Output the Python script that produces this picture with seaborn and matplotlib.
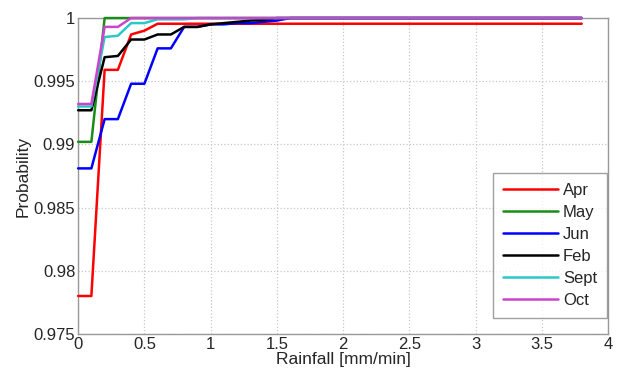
import matplotlib
matplotlib.use("Agg")
import matplotlib.pyplot as plt
import seaborn as sns
import pandas as pd
import numpy as np

# rainfall grid [mm/min]
rain = [round(0.1 * i, 1) for i in range(39)]

# cumulative probabilities (0 .. 1.6, then flat)
apr = [0.9780, 0.9780, 0.9959, 0.9959, 0.9987, 0.9990, 0.99955]
may = [0.9902, 0.9902, 1.0]
jun = [0.9881, 0.9881, 0.9920, 0.9920, 0.9948, 0.9948, 0.9976, 0.9976, 0.9993, 0.9993,
       0.9995, 0.9995, 0.9996, 0.9996, 0.9997, 0.9998, 1.0]
feb = [0.9927, 0.9927, 0.9969, 0.9970, 0.9983, 0.9983, 0.9987, 0.9987, 0.9993, 0.9993,
       0.9995, 0.9996, 0.9997, 0.9998, 0.99985, 1.0]
sept = [0.9930, 0.9930, 0.9985, 0.9986, 0.9996, 0.9996, 0.9999, 0.9999, 0.9999, 1.0]
octo = [0.9932, 0.9932, 0.9993, 0.9993, 1.0]

months = ["Apr", "May", "Jun", "Feb", "Sept", "Oct"]
series = [apr, may, jun, feb, sept, octo]
colors = ["#ff0000", "#1a8c1a", "#0000ff", "#000000", "#2cc8c8", "#cc44cc"]


def pad(vals):
    # hold the last read value until the end of the rainfall grid
    return vals + [vals[-1]] * (len(rain) - len(vals))


rows = []
for m, s in zip(months, series):
    for x, p in zip(rain, pad(s)):
        rows.append({"Rainfall": x, "Probability": p, "Month": m})
df = pd.DataFrame(rows)

sns.set_style("white")
plt.rcParams["font.family"] = ["Liberation Sans", "DejaVu Sans"]

fig = plt.figure(figsize=(6.2, 3.76), dpi=100)
ax = fig.add_axes([0.126, 0.112, 0.855, 0.84])

sns.lineplot(data=df, x="Rainfall", y="Probability", hue="Month",
             hue_order=months, palette=colors, linewidth=1.8, ax=ax,
             estimator=None, sort=False)
for ln in ax.lines:
    ln.set_clip_on(False)
    ln.set_zorder(3)

ax.set_xlim(0, 4)
ax.set_ylim(0.975, 1.0)
ax.set_xticks(np.arange(0, 4.01, 0.5))
ax.set_xticklabels(["0", "0.5", "1", "1.5", "2", "2.5", "3", "3.5", "4"])
ax.set_yticks(np.arange(0.975, 1.0001, 0.005))
ax.set_yticklabels(["0.975", "0.98", "0.985", "0.99", "0.995", "1"])
ax.tick_params(labelsize=12, direction="in", length=3, color="#888888", pad=2)
ax.grid(True, linestyle=":", color="#c8c8c8", linewidth=0.9)
for sp in ax.spines.values():
    sp.set_color("#999999")
    sp.set_linewidth(1.0)

ax.set_xlabel("Rainfall [mm/min]", fontsize=12.5, labelpad=0)
ax.set_ylabel("Probability", fontsize=12.5, labelpad=2)

leg = ax.legend(loc="lower right", fontsize=12, frameon=True, fancybox=False,
                edgecolor="#888888", handlelength=3.3, handletextpad=0.3,
                borderpad=0.6, labelspacing=0.42, borderaxespad=0,
                bbox_to_anchor=(0.998, 0.05))
leg.get_frame().set_linewidth(1.0)
leg.set_zorder(5)

fig.savefig("out.png", dpi=100)
